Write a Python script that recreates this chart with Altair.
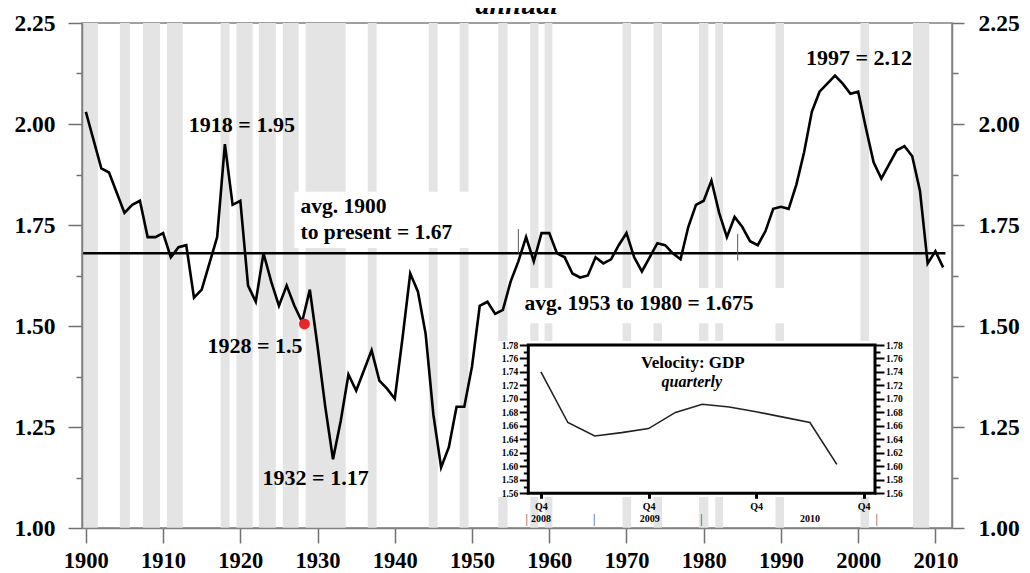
import altair as alt
import pandas as pd

FONT = "Liberation Serif"

# ---------------- main annual series ----------------
years = list(range(1900, 2012))
velocity = [
    2.03, 1.96, 1.89, 1.88, 1.83, 1.78, 1.80, 1.81, 1.72, 1.72,
    1.73, 1.67, 1.695, 1.70, 1.57, 1.59, 1.655, 1.72, 1.95, 1.80,
    1.81, 1.60, 1.56, 1.68, 1.61, 1.55, 1.60, 1.55, 1.51, 1.59,
    1.45, 1.30, 1.17, 1.265, 1.38, 1.34, 1.39, 1.44, 1.365, 1.345,
    1.32, 1.47, 1.63, 1.585, 1.48, 1.28, 1.15, 1.20, 1.30, 1.30,
    1.40, 1.55, 1.56, 1.53, 1.54, 1.61, 1.66, 1.72, 1.66, 1.73,
    1.73, 1.68, 1.67, 1.63, 1.62, 1.625, 1.67, 1.655, 1.665, 1.70,
    1.73, 1.67, 1.635, 1.67, 1.705, 1.70, 1.68, 1.665, 1.745, 1.80,
    1.81, 1.86, 1.78, 1.72, 1.77, 1.745, 1.71, 1.70, 1.735, 1.79,
    1.795, 1.79, 1.85, 1.93, 2.03, 2.08, 2.10, 2.12, 2.10, 2.075,
    2.08, 1.99, 1.905, 1.865, 1.90, 1.935, 1.945, 1.92, 1.835, 1.655,
    1.685, 1.645,
]

# recession shading (years)
band_start = [1899.5, 1904.4, 1907.4, 1910.5, 1917.45, 1919.5, 1922.4, 1925.5,
              1928.45, 1936.5, 1944.4, 1948.4, 1953.4, 1957.55, 1959.4, 1969.5,
              1973.5, 1979.4, 1981.5, 1989.3, 2000.3, 2007.1]
band_end = [1901.55, 1905.7, 1909.6, 1912.55, 1918.6, 1921.6, 1924.6, 1927.55,
            1933.65, 1937.65, 1945.55, 1949.55, 1954.6, 1958.6, 1960.4, 1970.6,
            1974.6, 1980.6, 1982.5, 1990.4, 2001.4, 2009.2]

# white label backgrounds (avg label, avg 1953 label, inset)
box_x0 = [1927.0, 1955.6, 1952.9]
box_x1 = [1951.0, 1991.6, 2005.95]
box_y0 = [1.693, 1.507, 1.077]
box_y1 = [1.832, 1.594, 1.463]

avg_value = 1.68
avg_from = [1899.6]
avg_to = [2011.3]

marker_years = [1956.0, 1984.4]
marker_low = [1.68, 1.662]
marker_high = [1.74, 1.728]

dot_year = [1928.3]
dot_value = [1.505]

ann_text = ["1918 = 1.95", "1997 = 2.12", "1928 = 1.5", "1932 = 1.17"]
ann_x = [1920.2, 2000.1, 1921.9, 1929.75]
ann_y = [1.98, 2.146, 1.434, 1.106]

avg_text = ["avg. 1900", "to present = 1.67", "avg. 1953 to 1980 = 1.675"]
avg_text_x = [1927.8, 1927.8, 1956.8]
avg_text_y = [1.780, 1.715, 1.540]

title_text = ["annual"]
title_x = [1955.8]
title_y = [2.272]

y_ticks = [1.0 + 0.125 * i for i in range(11)]
x_ticks = list(range(1900, 2011, 10))

# ---------------- inset quarterly series ----------------
quarters = ["2008Q4", "2009Q1", "2009Q2", "2009Q3", "2009Q4", "2010Q1",
            "2010Q2", "2010Q3", "2010Q4", "2011Q1", "2011Q2", "2011Q3"]
q_index = list(range(12))
q_velocity = [1.740, 1.665, 1.645, 1.650, 1.656, 1.680,
              1.692, 1.688, 1.681, 1.673, 1.665, 1.603]
q_ticks = [0, 4, 8, 12]
q_yticks = [round(1.56 + 0.01 * i, 2) for i in range(23)]
q_year_labels = ["2008", "2009", "2010"]
q_year_pos = [0.0, 4.05, 10.0]
q_sep_pos = [-0.53, 1.98, 5.97, 12.48]
q_label_row = 1.522
q_title = ["Velocity: GDP"]
q_title_x = [5.65]
q_title_y = [1.746]
q_subtitle = ["quarterly"]
q_subtitle_x = [5.61]
q_subtitle_y = [1.718]

# ---------------- scales / axes ----------------
W, H = 870, 505
X_SCALE = alt.Scale(domain=[1899.5, 2012.15], nice=False, zero=False)
Y_SCALE = alt.Scale(domain=[1.0, 2.25], nice=False, zero=False)
IX_SCALE = alt.Scale(domain=[-0.47, 12.42], range=[446.3, 793], nice=False, zero=False)
IY_SCALE = alt.Scale(domain=[1.56, 1.78], range=[470.3, 322], nice=False, zero=False)

common = dict(labelFont=FONT, labelFontWeight="bold", labelColor="black",
              labelFlush=False, labelOverlap=False, title=None, grid=False, zindex=1)

X_AXIS = alt.Axis(values=x_ticks, format="d", tickSize=15, labelPadding=6,
                  labelFontSize=22.5, tickColor="#707070", tickWidth=1.5,
                  domainColor="#808080", domainWidth=1.5, **common)

major_expr = "datum.value % 0.25 == 0 ? format(datum.value, '.2f') : ''"
Y_AXIS_LEFT = alt.Axis(values=y_ticks, labelExpr=major_expr, orient="left",
                       tickSize={"condition": {"test": "datum.value % 0.25 != 0", "value": 6}, "value": 14},
                       labelPadding=13, labelFontSize=23.5, tickColor="#707070", tickWidth=1.5,
                       domainColor="#808080", domainWidth=1.5, **common)
Y_AXIS_RIGHT = alt.Axis(values=y_ticks, labelExpr=major_expr, orient="right",
                        tickSize={"condition": {"test": "datum.value % 0.25 != 0", "value": 6}, "value": 12},
                        labelPadding=14, labelFontSize=23.5, tickColor="#707070", tickWidth=1.5,
                        domainColor="#808080", domainWidth=1.5, **common)

inset_expr = "round(datum.value * 100) % 2 == 0 ? format(datum.value, '.2f') : ''"
inset_common = dict(values=q_yticks, labelExpr=inset_expr, domain=False,
                    tickSize={"condition": {"test": "round(datum.value * 100) % 2 != 0", "value": 5}, "value": 9},
                    tickColor="black", tickWidth=2, labelFontSize=9.5, labelPadding=1.5, **common)
IY_AXIS_LEFT = alt.Axis(orient="left", offset=-446.3, **inset_common)
IY_AXIS_RIGHT = alt.Axis(orient="right", offset=-77, **inset_common)
IX_AXIS = alt.Axis(values=q_ticks, labelExpr="'Q4'", orient="bottom", offset=-34.7,
                   domain=False, tickSize=5, tickWidth=3, tickColor="black",
                   labelPadding=3, labelFontSize=10, **common)

# ---------------- data frames ----------------
line_df = pd.DataFrame({"year": years, "v": velocity})
band_df = pd.DataFrame({"s": band_start, "e": band_end,
                        "lo": [Y_SCALE.domain[0]] * len(band_start),
                        "hi": [Y_SCALE.domain[1]] * len(band_start)})
box_df = pd.DataFrame({"x0": box_x0, "x1": box_x1, "y0": box_y0, "y1": box_y1})
avg_df = pd.DataFrame({"x0": avg_from, "x1": avg_to, "v": [avg_value]})
marker_df = pd.DataFrame({"x": marker_years, "lo": marker_low, "hi": marker_high})
dot_df = pd.DataFrame({"x": dot_year, "v": dot_value})
ann_df = pd.DataFrame({"t": ann_text, "x": ann_x, "v": ann_y})
avgt_df = pd.DataFrame({"t": avg_text, "x": avg_text_x, "v": avg_text_y})
title_df = pd.DataFrame({"t": title_text, "x": title_x, "v": title_y})
yaxis_df = pd.DataFrame({"v": y_ticks})

q_df = pd.DataFrame({"q": q_index, "label": quarters, "v": q_velocity})
q_frame_df = pd.DataFrame({"x0": [IX_SCALE.domain[0]], "x1": [IX_SCALE.domain[1]],
                           "y0": [IY_SCALE.domain[0]], "y1": [IY_SCALE.domain[1]]})
q_year_df = pd.DataFrame({"t": q_year_labels, "x": q_year_pos, "v": [q_label_row] * 3})
q_sep_df = pd.DataFrame({"t": ["|"] * len(q_sep_pos), "x": q_sep_pos, "v": [q_label_row] * len(q_sep_pos)})
q_title_df = pd.DataFrame({"t": q_title, "x": q_title_x, "v": q_title_y})
q_sub_df = pd.DataFrame({"t": q_subtitle, "x": q_subtitle_x, "v": q_subtitle_y})
q_axis_df = pd.DataFrame({"v": q_yticks})


def MX(field):
    return alt.X(field, type="quantitative", scale=X_SCALE, axis=X_AXIS)


def MY(field):
    return alt.Y(field, type="quantitative", scale=Y_SCALE, axis=Y_AXIS_LEFT)


# ---------------- main layers ----------------
bands = alt.Chart(band_df).mark_rect(color="#e4e4e4").encode(
    x=MX("s"), x2="e", y=MY("lo"), y2="hi")
boxes = alt.Chart(box_df).mark_rect(color="white").encode(
    x=MX("x0"), x2="x1", y=MY("y0"), y2="y1")
avg_rule = alt.Chart(avg_df).mark_rule(color="black", strokeWidth=2.6).encode(
    x=MX("x0"), x2="x1", y=MY("v"))
markers = alt.Chart(marker_df).mark_rule(color="#555555", strokeWidth=1).encode(
    x=MX("x"), y=MY("lo"), y2="hi")
main_line = alt.Chart(line_df).mark_line(color="black", strokeWidth=2.6).encode(
    x=MX("year"), y=MY("v"))
dot = alt.Chart(dot_df).mark_circle(color="#e8262a", opacity=1, size=120).encode(
    x=MX("x"), y=MY("v"))
ann = alt.Chart(ann_df).mark_text(font=FONT, fontWeight="bold", fontSize=22,
                                  align="center", baseline="alphabetic", color="black").encode(
    x=MX("x"), y=MY("v"), text="t")
avgt = alt.Chart(avgt_df).mark_text(font=FONT, fontWeight="bold", fontSize=21.5,
                                    align="left", baseline="alphabetic", color="black").encode(
    x=MX("x"), y=MY("v"), text="t")
title = alt.Chart(title_df).mark_text(font=FONT, fontWeight="bold", fontStyle="italic",
                                      fontSize=28, align="center", baseline="alphabetic",
                                      color="black", clip=False).encode(
    x=MX("x"), y=MY("v"), text="t")

main = alt.layer(bands, boxes, avg_rule, markers, main_line, dot, ann, avgt, title)

right_axis = alt.Chart(yaxis_df).mark_point(opacity=0).encode(
    y=alt.Y("v", type="quantitative", scale=Y_SCALE, axis=Y_AXIS_RIGHT))


# ---------------- inset layers ----------------
def IX(field):
    return alt.X(field, type="quantitative", scale=IX_SCALE, axis=IX_AXIS)


def IY(field):
    return alt.Y(field, type="quantitative", scale=IY_SCALE, axis=IY_AXIS_LEFT)


q_frame = alt.Chart(q_frame_df).mark_rect(fill="white", stroke="black", strokeWidth=3).encode(
    x=IX("x0"), x2="x1", y=IY("y0"), y2="y1")
q_line = alt.Chart(q_df).mark_line(color="#222222", strokeWidth=1.6).encode(
    x=IX("q"), y=IY("v"))
q_titles = alt.Chart(q_title_df).mark_text(font=FONT, fontWeight="bold", fontSize=17,
                                           align="center", baseline="alphabetic", color="black").encode(
    x=IX("x"), y=IY("v"), text="t")
q_subs = alt.Chart(q_sub_df).mark_text(font=FONT, fontWeight="bold", fontStyle="italic", fontSize=16,
                                       align="center", baseline="alphabetic", color="black").encode(
    x=IX("x"), y=IY("v"), text="t")
q_years = alt.Chart(q_year_df).mark_text(font=FONT, fontWeight="bold", fontSize=10,
                                         align="center", baseline="middle", color="black").encode(
    x=IX("x"), y=IY("v"), text="t")
q_seps = alt.Chart(q_sep_df).mark_text(font=FONT, fontSize=12,
                                       align="center", baseline="middle", color="#333333").encode(
    x=IX("x"), y=IY("v"), text="t")

inset = alt.layer(q_frame, q_line, q_titles, q_subs, q_years, q_seps)

inset_right = alt.Chart(q_axis_df).mark_point(opacity=0).encode(
    y=alt.Y("v", type="quantitative", scale=IY_SCALE, axis=IY_AXIS_RIGHT))

chart = alt.layer(main, right_axis, inset, inset_right).resolve_scale(
    x="independent", y="independent"
).resolve_axis(
    x="independent", y="independent"
).properties(
    width=W, height=H,
    autosize=alt.AutoSizeParams(type="none"),
    padding={"left": 74, "top": 15, "right": 70, "bottom": 45},
).configure_view(stroke="#808080", strokeWidth=1.5)

chart.save("out.html", embed_options={"renderer": "svg", "actions": False})
